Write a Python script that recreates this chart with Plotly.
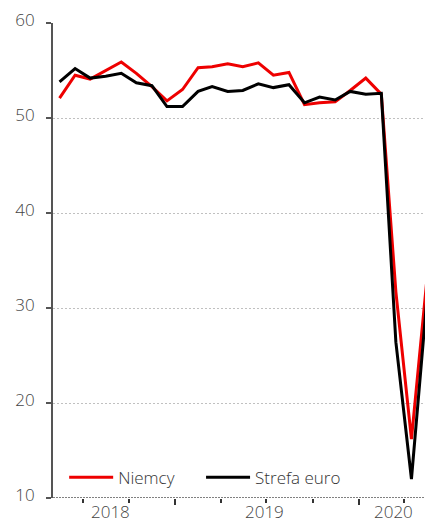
import plotly.graph_objects as go

# Services PMI, monthly readings (May 2018 - May 2020)
months = [
    "2018-05-15", "2018-06-15", "2018-07-15", "2018-08-15", "2018-09-15",
    "2018-10-15", "2018-11-15", "2018-12-15",
    "2019-01-15", "2019-02-15", "2019-03-15", "2019-04-15", "2019-05-15",
    "2019-06-15", "2019-07-15", "2019-08-15", "2019-09-15", "2019-10-15",
    "2019-11-15", "2019-12-15",
    "2020-01-15", "2020-02-15", "2020-03-15", "2020-04-15", "2020-05-15",
]
niemcy = [
    52.1, 54.5, 54.1, 55.0, 55.9, 54.7, 53.3, 51.8,
    53.0, 55.3, 55.4, 55.7, 55.4, 55.8, 54.5, 54.8, 51.4, 51.6, 51.7, 52.9,
    54.2, 52.5, 31.7, 16.2, 32.6,
]
strefa_euro = [
    53.8, 55.2, 54.2, 54.4, 54.7, 53.7, 53.4, 51.2,
    51.2, 52.8, 53.3, 52.8, 52.9, 53.6, 53.2, 53.5, 51.6, 52.2, 51.9, 52.8,
    52.5, 52.6, 26.4, 12.0, 30.5,
]

y_ticks = [10, 20, 30, 40, 50, 60]
year_labels = ["2018", "2019", "2020"]
year_label_pos = ["2018-08-25", "2019-06-28", "2020-03-10"]
year_starts = ["2019-01-01", "2020-01-01"]
x_range = ["2018-05-02", "2020-05-12"]

FONT = "Open Sans"
TEXT_FONT = dict(family=FONT, size=17, color="#444444", weight=300)
LEGEND_FONT = dict(family=FONT, size=17, color="#333333", weight=300)

fig = go.Figure()
fig.add_trace(go.Scatter(
    x=months, y=niemcy, name="Niemcy", mode="lines",
    line=dict(color="#ee0000", width=3), legend="legend",
))
fig.add_trace(go.Scatter(
    x=months, y=strefa_euro, name="Strefa euro", mode="lines",
    line=dict(color="#000000", width=3), legend="legend2",
))

# dotted baseline along the bottom of the plot
fig.add_shape(
    type="line", xref="paper", x0=0, x1=1, yref="y", y0=10, y1=10,
    line=dict(color="#808080", width=2, dash="2px,1px"), layer="above",
)

for lbl, pos in zip(year_labels, year_label_pos):
    fig.add_annotation(
        x=pos, xref="x", y=0, yref="paper", text=lbl, showarrow=False,
        yanchor="middle", yshift=-13, font=TEXT_FONT,
    )

legend_common = dict(
    orientation="h", xanchor="left", y=0.043, yanchor="middle",
    font=LEGEND_FONT, bgcolor="rgba(0,0,0,0)", itemwidth=44,
)

fig.update_layout(
    width=425, height=519,
    margin=dict(l=53, r=0, t=23, b=21),
    paper_bgcolor="white", plot_bgcolor="white",
    font=TEXT_FONT,
    showlegend=True,
    legend=dict(x=0.03, **legend_common),
    legend2=dict(x=0.398, **legend_common),
    xaxis=dict(
        type="date", range=x_range, showgrid=False, zeroline=False,
        showline=False, tickmode="array", tickvals=year_starts,
        showticklabels=False, ticks="outside", ticklen=6, tickwidth=2,
        tickcolor="#333333",
        minor=dict(ticks="outside", ticklen=4, tickwidth=2, tickcolor="#333333",
                   dtick="M3", tick0="2018-01-01", showgrid=False),
    ),
    yaxis=dict(
        range=[10, 60], tickmode="array", tickvals=y_ticks,
        showgrid=True, gridcolor="#c0c0c0", gridwidth=1, griddash="2px,2px",
        zeroline=False, showline=True, linecolor="#555555", linewidth=2,
        ticks="outside", ticklen=5, tickwidth=1.5, tickcolor="#555555",
        tickfont=TEXT_FONT,
        ticklabelstandoff=8, ticklabelshift=-3,
    ),
)

fig.write_html("out.html")
